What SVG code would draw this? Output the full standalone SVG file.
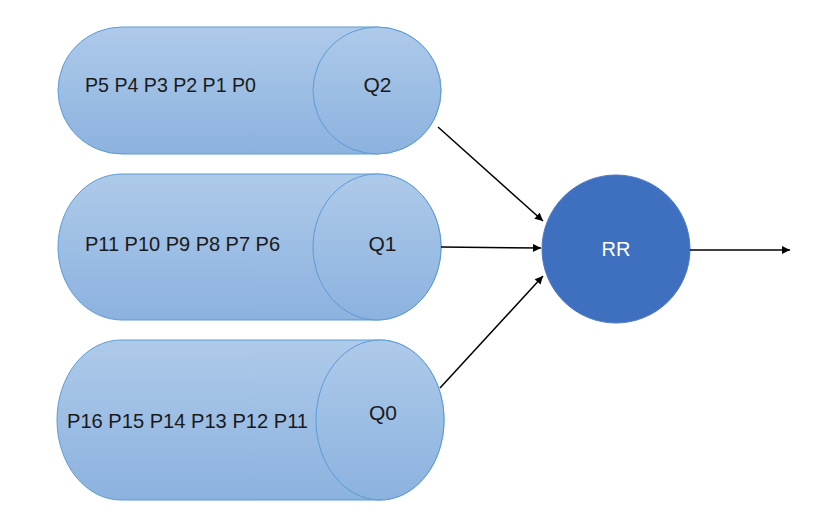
<svg xmlns="http://www.w3.org/2000/svg" width="831" height="516" viewBox="0 0 831 516">
<defs>
<linearGradient id="g" x1="0" y1="0" x2="0" y2="1">
<stop offset="0" stop-color="#aecaea"/>
<stop offset="1" stop-color="#8cb2df"/>
</linearGradient>
<marker id="ah" viewBox="0 0 10 10" refX="10" refY="5" markerWidth="10" markerHeight="8" markerUnits="userSpaceOnUse" orient="auto">
<path d="M0,0 L10,5 L0,10 Z" fill="#000"/>
</marker>
<style>
.cyl{fill:url(#g);stroke:#5b9bd5;stroke-width:1}
.t{font-family:"Liberation Sans",Arial,sans-serif;font-size:21px;fill:#1a1a1a}
.c{stroke:#000;stroke-width:1.5;fill:none;marker-end:url(#ah)}
</style>
</defs>
<rect width="831" height="516" fill="#fff"/>
<g id="q2">
<path class="cyl" d="M122,27 L377,27 A64,63.5 0 0 1 377,154 L122,154 A64,63.5 0 0 1 122,27 Z"/>
<ellipse class="cyl" cx="377" cy="90.5" rx="64" ry="63.5"/>
<text class="t" x="85" y="92" textLength="171" lengthAdjust="spacingAndGlyphs">P5 P4 P3 P2 P1 P0</text>
<text class="t" x="377.5" y="92" text-anchor="middle">Q2</text>
</g>
<g id="q1">
<path class="cyl" d="M122,174 L377,174 A64,73 0 0 1 377,320 L122,320 A64,73 0 0 1 122,174 Z"/>
<ellipse class="cyl" cx="377" cy="247" rx="64" ry="73"/>
<text class="t" x="85" y="251" textLength="195" lengthAdjust="spacingAndGlyphs">P11 P10 P9 P8 P7 P6</text>
<text class="t" x="382.5" y="251" text-anchor="middle">Q1</text>
</g>
<g id="q0">
<path class="cyl" d="M121,340 L380,340 A64,80 0 0 1 380,500 L121,500 A64,80 0 0 1 121,340 Z"/>
<ellipse class="cyl" cx="380" cy="420" rx="64" ry="80"/>
<text class="t" x="67" y="428" textLength="241" lengthAdjust="spacingAndGlyphs">P16 P15 P14 P13 P12 P11</text>
<text class="t" x="383" y="420" text-anchor="middle">Q0</text>
</g>
<g id="rr">
<circle cx="616" cy="249" r="74" fill="#3f6fbf" stroke="#4a78c6" stroke-width="1"/>
<text x="616" y="256" text-anchor="middle" font-family="'Liberation Sans',Arial,sans-serif" font-size="20" fill="#ffffff">RR</text>
</g>
<g id="connectors">
<line class="c" x1="438" y1="127" x2="543" y2="221"/>
<line class="c" x1="441" y1="247" x2="541" y2="248"/>
<line class="c" x1="440" y1="388" x2="543" y2="276"/>
<line class="c" x1="690" y1="250" x2="790" y2="250"/>
</g>
</svg>
